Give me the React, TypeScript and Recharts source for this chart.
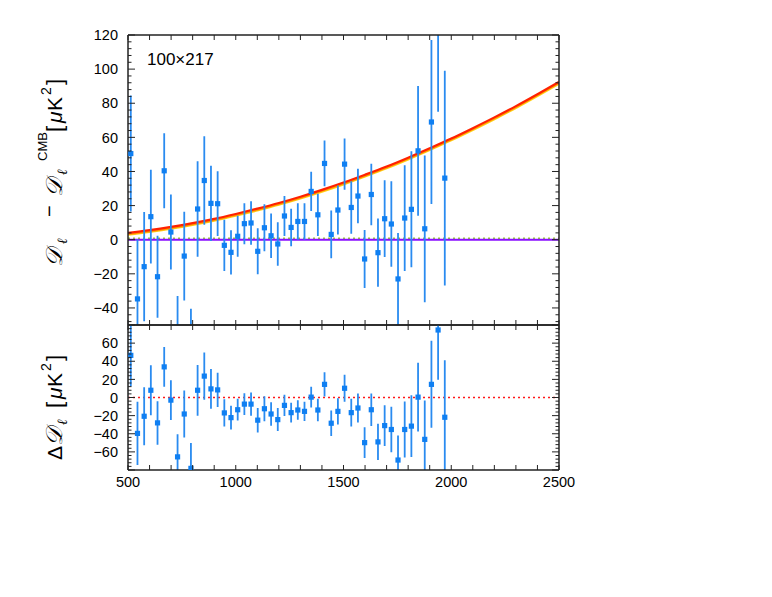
import React from 'react';
import { ComposedChart, Scatter, Line, XAxis, YAxis, ReferenceLine } from 'recharts';

// multipole bin centres
const ells = [513, 544, 575, 606, 637, 668, 699, 730, 761, 792, 823, 854, 885, 916, 947, 978, 1009, 1040, 1071, 1102, 1133, 1164, 1195, 1226, 1257, 1288, 1319, 1350, 1381, 1412, 1443, 1474, 1505, 1536, 1567, 1598, 1629, 1660, 1691, 1722, 1753, 1784, 1815, 1846, 1877, 1908, 1939, 1970];
// D_l - D_l^CMB (top panel)
const dResidual = [50.5, -34.7, -15.8, 13.5, -21.7, 40.4, 4.5, -58, -9.6, -68.5, 18, 34.7, 21.3, 21.1, -3.3, -7.4, 2, 9.4, 9.8, -6.8, 7, 2.3, -2.5, 13.9, 7.2, 10.7, 10.7, 28.3, 14.6, 44.7, 3.1, 17.4, 44.3, 18.9, 25.6, -11.3, 26.5, -7.6, 12.3, 9.2, -23, 12.7, 17.8, 52.1, 6.4, 69, 130, 36.1];
// 1-sigma errors
const errs = [34, 35, 32, 27.5, 24, 22, 22, 25, 26, 28, 28, 26, 22, 19, 15, 13, 12, 12, 12.7, 13.5, 13.8, 13, 12.7, 11.7, 11, 10.7, 10.7, 11.5, 12.4, 13.4, 14, 14.4, 15, 15.4, 16, 17, 18, 20, 22.5, 25, 27, 31, 34, 38, 43, 48, 55, 63];
// Delta D_l (bottom panel)
const dDelta = [46.5, -39.6, -20.7, 8, -28, 33.8, -2.9, -65.5, -18.2, -78.2, 8, 23.6, 9.5, 8.4, -17, -22.2, -13.5, -7.3, -7.3, -25, -12.4, -18.2, -24.4, -8.7, -16.7, -13.8, -15.3, 0.4, -13.8, 14.5, -28.4, -15.3, 10.2, -16.7, -11.6, -49.8, -13.5, -49, -31, -35.3, -69, -35.3, -31.6, 0.4, -46.2, 14.5, 74.5, -21.8];

// foreground model curves
const modelEll = [500, 600, 700, 800, 900, 1000, 1100, 1200, 1300, 1400, 1500, 1600, 1700, 1800, 1900, 2000, 2100, 2200, 2300, 2400, 2500];
const modelRed = [4.0, 5.6, 7.5, 9.7, 12.2, 15.1, 18.2, 21.5, 25.2, 29.2, 33.5, 38.1, 42.9, 48.1, 53.6, 59.3, 65.4, 71.7, 78.3, 85.3, 92.5];
const modelOrange = [3.4, 5.0, 6.9, 9.1, 11.6, 14.5, 17.6, 20.9, 24.6, 28.6, 32.9, 37.5, 42.3, 47.5, 53.0, 58.7, 64.8, 71.1, 77.7, 84.7, 91.9];
const modelYellow = [2.9, 4.5, 6.4, 8.6, 11.1, 14.0, 17.1, 20.4, 24.1, 28.1, 32.4, 37.0, 41.8, 47.0, 52.5, 58.2, 64.3, 70.6, 77.2, 84.2, 91.4];
const greenLevel = 0.8;

// ticks
const xTicks = [500, 600, 700, 800, 900, 1000, 1100, 1200, 1300, 1400, 1500, 1600, 1700, 1800, 1900, 2000, 2100, 2200, 2300, 2400, 2500];
const xLabels = [500, 1000, 1500, 2000, 2500];
const topMajor = [-40, -20, 0, 20, 40, 60, 80, 100, 120];
const botMajor = [-80, -60, -40, -20, 0, 20, 40, 60, 80];
const botLabels = [-60, -40, -20, 0, 20, 40, 60];
const panelLabel = '100×217';

const topMinor: number[] = [];
for (let v = -48; v <= 120; v += 4) topMinor.push(v);
const botMinor: number[] = [];
for (let v = -80; v <= 80; v += 4) botMinor.push(v);

const topPoints = ells.map((l, i) => ({ l, v: dResidual[i] }));
const botPoints = ells.map((l, i) => ({ l, v: dDelta[i] }));
// vertical error segments, separated by null gaps
const errSegments = (vals: number[]) => {
  const out: { l: number; y: number | null }[] = [];
  ells.forEach((l, i) => {
    out.push({ l, y: vals[i] - errs[i] });
    out.push({ l, y: vals[i] + errs[i] });
    out.push({ l, y: null });
  });
  return out;
};
const topErr = errSegments(dResidual);
const botErr = errSegments(dDelta);
const modelData = modelEll.map((l, i) => ({ l, red: modelRed[i], orange: modelOrange[i], yellow: modelYellow[i] }));

const FONT = 'Liberation Sans, Arial, Helvetica, sans-serif';
const AX = '#222';
const fmt = (v: number) => (v < 0 ? '\u2212' + Math.abs(v) : String(v));

const makeYTick = (majors: number[], labels: number[] | null, side: 'left' | 'right') => (props: any) => {
  const { x, y, payload } = props;
  const v = payload.value;
  const major = majors.includes(v);
  const len = major ? 7 : 3.5;
  const x2 = side === 'left' ? x + len : x - len;
  return (
    <g>
      <line x1={x} x2={x2} y1={y} y2={y} stroke={AX} strokeWidth={1} />
      {labels && labels.includes(v) ? (
        <text x={x - 10} y={y} dy="0.36em" textAnchor="end" fontSize={14.5} fontFamily={FONT} fill="#000">
          {fmt(v)}
        </text>
      ) : null}
    </g>
  );
};

const makeXTick = (side: 'top' | 'bottom', showLabels: boolean) => (props: any) => {
  const { x, y, payload } = props;
  const v = payload.value;
  const len = 5;
  const y2 = side === 'bottom' ? y - len : y + len;
  return (
    <g>
      <line x1={x} x2={x} y1={y} y2={y2} stroke={AX} strokeWidth={1} />
      {showLabels && xLabels.includes(v) ? (
        <text x={x} y={y + 17} textAnchor="middle" fontSize={14.5} fontFamily={FONT} fill="#000">
          {v}
        </text>
      ) : null}
    </g>
  );
};

const Square = (props: any) => {
  const { cx, cy } = props;
  if (cx == null || cy == null) return null;
  return <rect x={cx - 2.6} y={cy - 2.6} width={5.2} height={5.2} fill="#0f7ff2" />;
};

const axisLine = { stroke: AX, strokeWidth: 1.5 };
const common = { ticks: xTicks, interval: 0 as const, tickSize: 0, tickMargin: 0, tickLine: false, axisLine };
const ERR_COLOR = '#2a8bf0';

export default function App() {
  return (
    <div style={{ position: 'absolute', left: 0, top: 0, width: 772, height: 597, background: '#fff' }}>
      <div style={{ position: 'absolute', left: 0, top: 0 }}>
        <ComposedChart width={772} height={330} margin={{ top: 34, left: 127, right: 212, bottom: 4 }}>
          <XAxis xAxisId="b" dataKey="l" type="number" domain={[500, 2500]} allowDataOverflow orientation="bottom" height={1}
            {...common} tick={makeXTick('bottom', false)} />
          <XAxis xAxisId="t" dataKey="l" type="number" domain={[500, 2500]} allowDataOverflow orientation="top" height={1}
            {...common} tick={makeXTick('top', false)} />
          <YAxis yAxisId="l" type="number" domain={[-50, 120]} allowDataOverflow orientation="left" width={1}
            ticks={topMinor} interval={0} tickSize={0} tickMargin={0} tickLine={false} axisLine={axisLine} tick={makeYTick(topMajor, topMajor, 'left')} />
          <YAxis yAxisId="r" type="number" domain={[-50, 120]} allowDataOverflow orientation="right" width={1}
            ticks={topMinor} interval={0} tickSize={0} tickMargin={0} tickLine={false} axisLine={axisLine} tick={makeYTick(topMajor, null, 'right')} />
          <ReferenceLine xAxisId="b" yAxisId="l" y={greenLevel} stroke="#9acd32" strokeWidth={1.5} strokeDasharray="2 3" />
          <ReferenceLine xAxisId="b" yAxisId="l" y={0} stroke="#8a10ff" strokeWidth={2} />
          <Line xAxisId="b" yAxisId="l" data={modelData} dataKey="yellow" type="monotone" stroke="#ffd21a" strokeWidth={2} dot={false} isAnimationActive={false} />
          <Line xAxisId="b" yAxisId="l" data={modelData} dataKey="orange" type="monotone" stroke="#ff9a00" strokeWidth={2} dot={false} isAnimationActive={false} />
          <Line xAxisId="b" yAxisId="l" data={modelData} dataKey="red" type="monotone" stroke="#ff2200" strokeWidth={2.2} dot={false} isAnimationActive={false} />
          <Line xAxisId="b" yAxisId="l" data={topErr} dataKey="y" type="linear" stroke={ERR_COLOR} strokeWidth={1.8} dot={false} connectNulls={false} isAnimationActive={false} />
          <Scatter xAxisId="b" yAxisId="l" data={topPoints} dataKey="v" shape={Square} isAnimationActive={false} />
        </ComposedChart>
      </div>
      <div style={{ position: 'absolute', left: 0, top: 300 }}>
        <ComposedChart width={772} height={297} margin={{ top: 24, left: 127, right: 212, bottom: 126 }}>
          <XAxis xAxisId="b" dataKey="l" type="number" domain={[500, 2500]} allowDataOverflow orientation="bottom" height={1}
            {...common} tick={makeXTick('bottom', true)} />
          <XAxis xAxisId="t" dataKey="l" type="number" domain={[500, 2500]} allowDataOverflow orientation="top" height={1}
            {...common} tick={makeXTick('top', false)} />
          <YAxis yAxisId="l" type="number" domain={[-80, 80]} allowDataOverflow orientation="left" width={1}
            ticks={botMinor} interval={0} tickSize={0} tickMargin={0} tickLine={false} axisLine={axisLine} tick={makeYTick(botMajor, botLabels, 'left')} />
          <YAxis yAxisId="r" type="number" domain={[-80, 80]} allowDataOverflow orientation="right" width={1}
            ticks={botMinor} interval={0} tickSize={0} tickMargin={0} tickLine={false} axisLine={axisLine} tick={makeYTick(botMajor, null, 'right')} />
          <ReferenceLine xAxisId="b" yAxisId="l" y={0} stroke="#ff1a1a" strokeWidth={1.5} strokeDasharray="2 3" />
          <Line xAxisId="b" yAxisId="l" data={botErr} dataKey="y" type="linear" stroke={ERR_COLOR} strokeWidth={1.8} dot={false} connectNulls={false} isAnimationActive={false} />
          <Scatter xAxisId="b" yAxisId="l" data={botPoints} dataKey="v" shape={Square} isAnimationActive={false} />
        </ComposedChart>
      </div>
      <svg width={772} height={597} style={{ position: 'absolute', left: 0, top: 0, pointerEvents: 'none' }}>
        <text x={147} y={65} fontSize={17} fontFamily={FONT} fill="#000">{panelLabel}</text>
        <g transform="translate(62, 267) rotate(-90)" fontFamily={FONT} fill="#000">
          <text x={0} y={0} fontSize={23} fontStyle="italic" fontFamily="DejaVu Serif, serif">𝒟</text>
          <text x={23} y={5} fontSize={14} fontStyle="italic" fontFamily="DejaVu Serif, serif">ℓ</text>
          <text x={50} y={-6} fontSize={20}>−</text>
          <text x={70} y={0} fontSize={23} fontStyle="italic" fontFamily="DejaVu Serif, serif">𝒟</text>
          <text x={92} y={5} fontSize={14} fontStyle="italic" fontFamily="DejaVu Serif, serif">ℓ</text>
          <text x={106} y={-15} fontSize={13}>CMB</text>
          <text x={135} y={0} fontSize={22} fontWeight={300}>[</text>
          <text x={144} y={0} fontSize={21} fontStyle="italic">μ</text>
          <text x={156} y={0} fontSize={21}>K</text>
          <text x={172} y={-11} fontSize={14}>2</text>
          <text x={182} y={0} fontSize={22}>]</text>
        </g>
        <g transform="translate(62, 460) rotate(-90)" fontFamily={FONT} fill="#000">
          <text x={0} y={0} fontSize={21}>Δ</text>
          <text x={14} y={0} fontSize={23} fontStyle="italic" fontFamily="DejaVu Serif, serif">𝒟</text>
          <text x={35} y={5} fontSize={14} fontStyle="italic" fontFamily="DejaVu Serif, serif">ℓ</text>
          <text x={52} y={0} fontSize={22}>[</text>
          <text x={61} y={0} fontSize={21} fontStyle="italic">μ</text>
          <text x={73} y={0} fontSize={21}>K</text>
          <text x={89} y={-11} fontSize={14}>2</text>
          <text x={99} y={0} fontSize={22}>]</text>
        </g>
      </svg>
    </div>
  );
}
